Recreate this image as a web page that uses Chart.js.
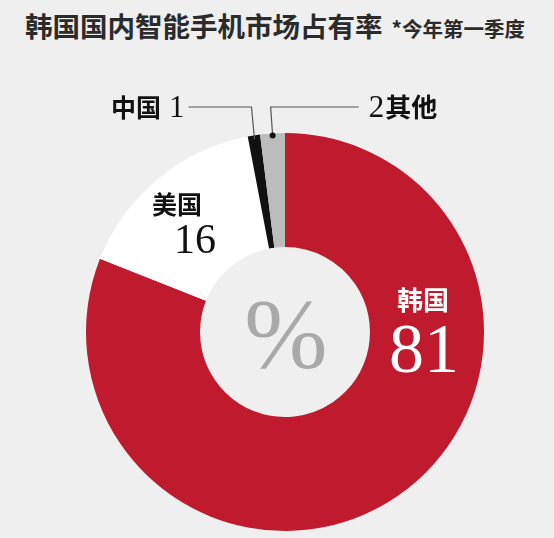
<!DOCTYPE html>
<html>
<head>
<meta charset="utf-8">
<script src="https://cdn.jsdelivr.net/npm/chart.js@4"></script>
<style>
  html, body { margin:0; padding:0; background:#efefef; }
  #wrap { position:relative; width:554px; height:538px; overflow:hidden; }
  #title { position:absolute; left:25px; top:10px; font-family:"Noto Sans CJK SC","Noto Sans",sans-serif; font-weight:700; font-size:27.5px; line-height:30px; color:#2b2b2b; white-space:nowrap; }
  #title span { font-size:20.5px; margin-left:9px; color:#2b2b2b; }
  canvas { position:absolute; left:0; top:0; }
</style>
</head>
<body>
<div id="wrap">
  <div id="title">韩国国内智能手机市场占有率<span>*今年第一季度</span></div>
  <canvas id="c" width="554" height="538"></canvas>
</div>
<script>
const categories = ['韩国', '美国', '中国', '其他'];
const shares = [81, 16, 1, 2];
const sliceColors = ['#bf1a2d', '#ffffff', '#111111', '#bcbcbc'];
const centerUnit = '%';

const labelPlugin = {
  id: 'sliceLabels',
  afterDatasetsDraw(chart) {
    const ctx = chart.ctx;
    const arcs = chart.getDatasetMeta(0).data;
    const a0 = arcs[0];
    const cx = a0.x, cy = a0.y, R = a0.outerRadius, r = a0.innerRadius;
    const cjk = '"Noto Sans CJK SC", sans-serif';
    const serif = '"Liberation Serif", "DejaVu Serif", serif';
    ctx.save();

    // centre unit
    ctx.fillStyle = '#a9a9a9';
    ctx.font = '100px ' + serif;
    ctx.textAlign = 'center';
    ctx.textBaseline = 'alphabetic';
    ctx.fillText(centerUnit, cx + 1, cy + 35);

    // 韩国 (inside red, 3 o'clock)
    const kx = cx + (R + r) / 2 - 3;
    ctx.fillStyle = '#ffffff';
    ctx.font = '700 26px ' + cjk;
    ctx.fillText(categories[0], kx - 1, cy - 22);
    ctx.font = '70px ' + serif;
    ctx.fillText(String(shares[0]), kx, cy + 40);

    // 美国 (inside white)
    ctx.fillStyle = '#111111';
    ctx.textAlign = 'left';
    ctx.font = '700 25px ' + cjk;
    ctx.fillText(categories[1], cx - 133, cy - 118);
    ctx.font = '42px ' + serif;
    ctx.fillText(String(shares[1]), cx - 111, cy - 79);

    // leader lines
    const lineY = cy - R - 26;
    const edgePt = (arc, inset) => {
      const mid = (arc.startAngle + arc.endAngle) / 2;
      return { x: cx + (R - inset) * Math.cos(mid), y: cy + (R - inset) * Math.sin(mid) };
    };
    ctx.strokeStyle = '#555555';
    ctx.lineWidth = 1.2;
    // 中国
    const pCn = edgePt(arcs[2], 4);
    ctx.beginPath();
    ctx.moveTo(pCn.x, pCn.y);
    ctx.lineTo(pCn.x - 3, lineY);
    ctx.lineTo(pCn.x - 66, lineY);
    ctx.stroke();
    // 其他
    const pOt = edgePt(arcs[3], 2);
    ctx.beginPath();
    ctx.moveTo(pOt.x, pOt.y);
    ctx.lineTo(pOt.x - 2, lineY);
    ctx.lineTo(pOt.x + 86, lineY);
    ctx.stroke();
    ctx.fillStyle = '#111111';
    ctx.beginPath();
    ctx.arc(pOt.x, pOt.y, 3, 0, Math.PI * 2);
    ctx.fill();

    // 中国 1 text
    ctx.textAlign = 'right';
    ctx.font = '31px ' + serif;
    const oneW = ctx.measureText(String(shares[2])).width;
    const rightEdge = pCn.x - 70;
    ctx.fillText(String(shares[2]), rightEdge, lineY + 10);
    ctx.font = '700 25px ' + cjk;
    ctx.fillText(categories[2], rightEdge - oneW - 8, lineY + 10);

    // 2 其他 text
    ctx.textAlign = 'left';
    const leftEdge = pOt.x + 96;
    ctx.font = '31px ' + serif;
    ctx.fillText(String(shares[3]), leftEdge, lineY + 10);
    const twoW = ctx.measureText(String(shares[3])).width;
    ctx.font = '700 26px ' + cjk;
    ctx.fillText(categories[3], leftEdge + twoW + 1, lineY + 10);

    ctx.restore();
  }
};

new Chart(document.getElementById('c'), {
  type: 'doughnut',
  data: {
    labels: categories,
    datasets: [{
      data: shares,
      backgroundColor: sliceColors,
      borderWidth: 0,
      hoverOffset: 0
    }]
  },
  options: {
    responsive: false,
    animation: false,
    cutout: '42.7%',
    rotation: 0,
    layout: { padding: { left: 86, right: 70, top: 133, bottom: 7 } },
    plugins: { legend: { display: false }, tooltip: { enabled: false } },
    events: []
  },
  plugins: [labelPlugin]
});
</script>
</body>
</html>
